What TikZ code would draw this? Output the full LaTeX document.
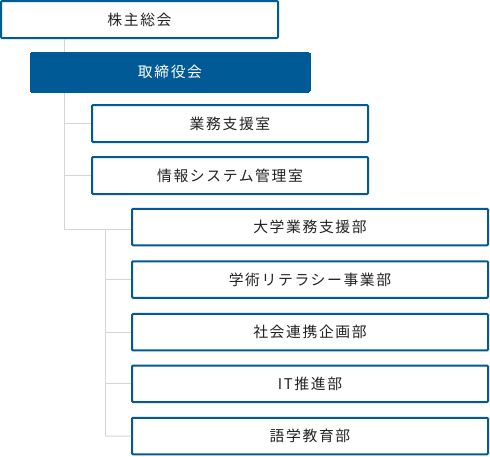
\documentclass[tikz,border=0pt]{standalone}
\usepackage{fontspec}
\setmainfont{Noto Sans CJK JP}[LetterSpace=11]
\definecolor{navy}{HTML}{005A96}
\definecolor{linegrey}{HTML}{D5D5D5}
\definecolor{txt}{HTML}{222222}
\begin{document}
\begin{tikzpicture}[x=1pt,y=-1pt,
  box/.style={draw=navy,line width=2pt,fill=white,rounded corners=1pt,
    inner sep=0pt,text=txt,font=\fontsize{14.8}{16}\selectfont},
  topbox/.style={box,minimum width=277pt,minimum height=37pt},
  boardbox/.style={draw=navy,fill=navy,line width=0pt,rounded corners=1.5pt,inner sep=0pt,
    text=white,font=\fontsize{14.8}{16}\selectfont,minimum width=280pt,minimum height=40pt},
  midbox/.style={box,minimum width=276pt,minimum height=37pt},
  depbox/.style={box,minimum width=356pt,minimum height=36.5pt},
  conn/.style={draw=linegrey,line width=1pt}]
\useasboundingbox (0,0) rectangle (490,456);
\coordinate (t1) at (64,39);
\coordinate (j1) at (64,229.3);
\coordinate (j2) at (105.3,229.3);
\coordinate (b2) at (105.3,436.2);
\coordinate (l2a) at (64,123.5);
\coordinate (l2b) at (64,175.8);
\node[topbox] (agm) at (139.5,19.5) {株主総会};
\node[midbox] (gyomu) at (230,123.5) {業務支援室};
\node[midbox] (joho) at (230,175.5) {情報システム管理室};
\node[depbox] (daigaku) at (310,227) {大学業務支援部};
\node[depbox] (gakujutsu) at (310,279.5) {学術リテラシー事業部};
\node[depbox] (shakai) at (310,332.2) {社会連携企画部};
\node[depbox] (it) at (310,383.8) {IT推進部};
\node[depbox] (gogaku) at (310,436) {語学教育部};
\draw[conn] (t1) -- (j1) -- (j1 -| daigaku.west);
\draw[conn] (l2a) -- (gyomu.west);
\draw[conn] (l2b) -- (l2b -| joho.west);
\draw[conn] (j2) -- (b2);
\draw[conn] (gakujutsu.west -| j2) -- (gakujutsu.west);
\draw[conn] (shakai.west -| j2) -- (shakai.west);
\draw[conn] (it.west -| j2) -- (it.west);
\draw[conn] (b2) -- (gogaku.west);
\node[boardbox] (board) at (170,72) {取締役会};
\end{tikzpicture}
\end{document}
